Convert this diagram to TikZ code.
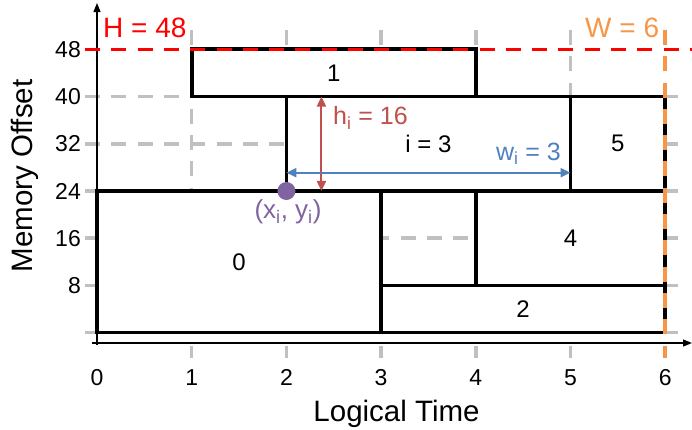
\documentclass[tikz,border=0pt]{standalone}
\usepackage{fontspec}
\setmainfont{Liberation Sans}
\usetikzlibrary{arrows.meta}
\definecolor{gridgray}{HTML}{C0C0C0}
\definecolor{hred}{HTML}{FF0000}
\definecolor{worange}{HTML}{F79646}
\definecolor{arrred}{HTML}{C0504D}
\definecolor{arrblue}{HTML}{4F81BD}
\definecolor{ptpurple}{HTML}{8064A2}
\begin{document}
\begin{tikzpicture}[
  gridline/.style={gridgray, line width=3.5pt, dash pattern=on 15pt off 11.3pt},
  limitline/.style={line width=3.5pt, dash pattern=on 15pt off 11.3pt},
  axisline/.style={line width=1.3pt, -{Triangle[length=9pt,width=7pt]}},
  memblock/.style={draw, fill=white, line width=3.6pt, inner sep=0pt, outer sep=0pt, font=\fontsize{24}{28}\selectfont},
  ticklab/.style={font=\fontsize{23}{27}\selectfont, inner sep=0pt},
  axislab/.style={font=\fontsize{29.5}{34}\selectfont, inner sep=0pt},
  limitlab/.style={font=\fontsize{28}{32}\selectfont, inner sep=0pt},
  dimlab/.style={font=\fontsize{25}{30}\selectfont, inner sep=0pt},
  dimarrow/.style={line width=2pt, {Triangle[length=10pt,width=9pt]}-{Triangle[length=10pt,width=9pt]}}
]
\path[use as bounding box] (0,0) rectangle (692pt,430pt);
\begin{scope}[shift={(97pt,97.3pt)}, x=94.7pt, y=5.904pt]
  % grid
  \foreach \t in {1,...,5}
    \draw[gridline] (\t,51.27) -- (\t,-4.285);
  \foreach \m in {0,8,16,24,32,40}
    \draw[gridline] (-0.1267,\m) -- (6.135,\m);
  % axes
  \coordinate (yB) at (0,-2.08);
  \coordinate (yT) at (0,55.84);
  \coordinate (xL) at (-0.053,-1.745);
  \coordinate (xR) at (6.283,-1.745);
  \draw[axisline] (yB) -- (yT);
  \draw[axisline] (xL) -- (xR);
  % tick labels
  \foreach \t in {0,...,6}
    \node[ticklab, anchor=base] (xl\t) at (\t,-8.86) {\t};
  \foreach \m in {8,16,24,32,40,48}
    \node[ticklab, anchor=east] (yl\m) at (-0.169,\m) {\m};
  % axis titles
  \node[axislab, anchor=base] (xtitle) at (3.163,-14.96) {Logical Time};
  \node[axislab, anchor=base, rotate=90] (ytitle) at (-0.676,26.54) {Memory Offset};
  % memory blocks
  \node[memblock, minimum width=3*94.7pt, minimum height=24*5.904pt] (b0) at (1.5,12) {0};
  \node[memblock, minimum width=3*94.7pt, minimum height=8*5.904pt] (b1) at (2.5,44) {1};
  \node[memblock, minimum width=3*94.7pt, minimum height=8*5.904pt] (b2) at (4.5,4) {2};
  \node[memblock, minimum width=3*94.7pt, minimum height=16*5.904pt] (b3) at (3.5,32) {i = 3};
  \node[memblock, minimum width=2*94.7pt, minimum height=16*5.904pt] (b4) at (5,16) {4};
  \node[memblock, minimum width=1*94.7pt, minimum height=16*5.904pt] (b5) at (5.5,32) {5};
  % limits
  \coordinate (hL) at (-0.1267,48);
  \coordinate (hR) at (6.283,48);
  \draw[limitline, hred] (hL) -- (hR);
  \coordinate (wT) at (6,51.27);
  \coordinate (wB) at (6,-4.285);
  \draw[limitline, worange] (wT) -- (wB);
  \node[limitlab, hred, anchor=base west] (Hlab) at (0.063,49.92) {H = 48};
  \node[limitlab, worange, anchor=base west] (Wlab) at (5.153,50.08) {W = 6};
  % dimension arrows
  \coordinate (hTop) at (2.37,40);
  \coordinate (hBot) at (2.37,24);
  \draw[dimarrow, arrred] (hTop) -- (hBot);
  \coordinate (wLft) at (2,27.1);
  \coordinate (wRgt) at (5,27.1);
  \draw[dimarrow, arrblue] (wLft) -- (wRgt);
  \node[dimlab, arrred, anchor=base west] (hlab) at (2.492,35.18) {h\textsubscript{i} = 16};
  \node[dimlab, arrblue, anchor=base east] (wlab) at (4.900,29.25) {w\textsubscript{i} = 3};
  % origin point of block i
  \node[circle, fill=ptpurple, minimum size=18pt, inner sep=0pt] (pti) at (2,24) {};
  \node[font=\fontsize{26}{30}\selectfont, ptpurple, inner sep=0pt] (ptlab) at (2.017,20.44) {(x\textsubscript{i}, y\textsubscript{i})};
\end{scope}
\end{tikzpicture}
\end{document}
